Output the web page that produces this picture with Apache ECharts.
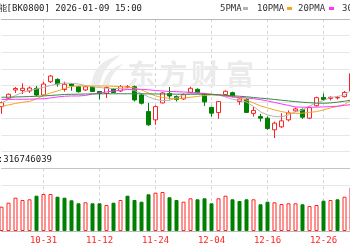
<!DOCTYPE html>
<html><head><meta charset="utf-8">
<script src="https://cdn.jsdelivr.net/npm/echarts@6/dist/echarts.min.js"></script>
<style>
html,body{margin:0;padding:0;width:350px;height:250px;overflow:hidden;background:#fff}
#c{position:absolute;left:-20px;top:0;width:400px;height:250px}
</style></head><body><div id="c"></div>
<script>
// ---------------- data ----------------
const titleText = '人工智能[BK0800] 2026-01-09 15:00';
const volumeText = '成交量:316746039';
const maNames = ['5PMA', '10PMA', '20PMA', '30PMA'];
const watermarkChars = ['东', '方', '财', '富'];

const dates = ['10-23','10-24','10-27','10-28','10-29','10-30','10-31','11-03','11-04','11-05','11-06','11-07','11-10','11-11','11-12','11-13','11-14','11-17','11-18','11-19','11-20','11-21','11-24','11-25','11-26','11-27','11-28','12-01','12-02','12-03','12-04','12-05','12-08','12-09','12-10','12-11','12-12','12-15','12-16','12-17','12-18','12-19','12-22','12-23','12-24','12-25','12-26','12-29','12-30','12-31','01-05'];

const opens = [1835.9,1861.1,1886,1884.5,1883,1891.1,1871,1910.9,1918.1,1887.5,1904,1895.9,1886,1895,1881.5,1875.5,1889,1883,1895,1895.9,1871,1820.9,1796,1847,1875.5,1866.5,1859,1879.1,1888.1,1875.5,1833.5,1817.9,1872.5,1877.9,1850.9,1857.5,1815.5,1805.9,1801.1,1766,1775,1796,1823,1826.9,1801.1,1838.6,1863.5,1860.5,1862.3,1865.9,1883];
const closes = [1847.9,1873.1,1890.5,1891.1,1892,1871,1904,1928,1904,1903.1,1898.9,1880.9,1895.9,1881.5,1875.5,1893.5,1878.5,1896.5,1895.6,1856,1846.1,1781,1835.9,1877,1868,1857.5,1872.5,1891.1,1877,1850,1816.1,1850.9,1882.1,1867.1,1859,1818.5,1824.5,1801.1,1769.6,1786.1,1793,1817,1829,1804.1,1832.9,1862.9,1857.5,1864.1,1863.2,1878.5,1935.5];
const lows = [1814,1859,1877,1874,1877,1866.5,1869.5,1907,1895.9,1880.9,1883.9,1877.9,1883,1880,1857.5,1862,1877,1880,1891.1,1851.5,1842.5,1778,1781,1845.5,1857.5,1851.5,1856,1876.1,1875.5,1838,1805.9,1799,1866.5,1863.5,1841,1817,1805.9,1790.9,1766,1741.1,1771.1,1791.5,1820,1799,1798.1,1835.9,1853,1854.5,1857.5,1863.5,1880];
const highs = [1851.5,1875.5,1895,1906.1,1896.5,1898,1910.9,1931,1921.1,1910.9,1906.1,1898,1898,1898,1883,1896.5,1892,1901,1901,1899.5,1875.5,1847,1839.5,1880,1895,1869.5,1875.5,1895.9,1891.1,1877,1835.9,1853,1885.1,1880.9,1861.1,1861.1,1835,1814,1805.9,1790.9,1816.1,1824.5,1833.5,1830.5,1835.9,1865.9,1875.5,1866.5,1868,1883,1940];

const ma5 = [1847,1857.5,1869.5,1878.5,1884.5,1889,1893.5,1899.5,1904,1907,1906.1,1904,1899.5,1895.9,1893.5,1891.1,1890.5,1890.5,1889,1884.5,1875.5,1865,1857.5,1853.9,1854.5,1863.5,1871,1875.5,1877,1876.1,1874,1871,1865,1858.1,1854.5,1850,1836.5,1820,1811,1805.9,1805,1811,1820,1826,1838,1847,1854.5,1863.5,1866.5,1871,1886];
const ma10 = [1836.5,1841,1845.5,1849.1,1851.5,1859,1869.5,1877,1883,1890.5,1896.5,1898,1898,1898,1898,1898,1897.1,1895.9,1895,1892,1886,1877,1868,1863.5,1861.1,1859,1862,1864.1,1866.5,1869.5,1871,1871,1869.5,1865.9,1862,1856,1847,1838,1832,1826,1820.9,1817,1815.5,1816.1,1818.5,1820.9,1826,1832,1836.5,1842.5,1856];
const ma20 = [1857.5,1857.5,1858.1,1858.1,1858.4,1859,1859.6,1862,1865,1867.1,1868,1868,1869.5,1874,1877,1880,1883,1885.1,1887.5,1888.1,1888.1,1886.6,1884.5,1883,1881.5,1880.9,1880,1878.5,1877,1874.9,1872.5,1871,1868,1865,1863.5,1862,1859.6,1856.9,1853,1848.5,1844,1839.5,1835,1834.1,1834.1,1834.4,1835,1835.9,1837.1,1839.5,1842.5];
const ma30 = [1864.1,1864.4,1865,1865.6,1866.2,1867.1,1868,1869.5,1871,1872.5,1873.1,1873.4,1874,1874,1874.3,1874.6,1874.6,1874.6,1874.6,1874.6,1874.6,1874.3,1874,1874,1873.7,1873.4,1873.4,1873.1,1873.1,1873.1,1872.5,1871.6,1870.1,1868.6,1867.1,1865.6,1863.5,1861.4,1859.6,1857.5,1855.1,1853,1850.9,1849.1,1847.6,1846.4,1846.1,1847,1849.4,1852.1,1856];

// volume, millions of shares
const volumes = [145.8,169.8,199.8,186,190.2,211.8,222,222,205.8,199.8,184.2,166.2,172.2,166.2,166.2,156,169.8,186,211.8,186,175.8,220.2,229.8,234,202.2,186,175.8,196.2,190.2,196.2,166.2,196.2,211.8,190.2,180,190.2,190.2,160.2,175.8,172.2,162,166.2,166.2,160.2,150,156,181.8,186,190.2,205.8,262.2];

// ---------------- chart ----------------
const OFF = 20; // container is shifted 20px left of the window
const RED = '#f22';
const GREEN = '#008000';
const MA_COLORS = ['#b4b4b4', '#f5a623', '#ff33ff', '#338a44'];
const MONO = '"DejaVu Sans Mono", "Liberation Mono", monospace';

const candleData = dates.map((d, i) => [opens[i], closes[i], lows[i], highs[i]]);
const volData = volumes.map((v, i) => {
  const up = i === 0 ? closes[0] >= opens[0] : closes[i] >= closes[i - 1];
  return { value: v, itemStyle: up ? { color: '#fff', borderColor: RED } : { color: GREEN, borderColor: GREEN } };
});
const showAt = (idx) => idx >= 6 && (idx - 6) % 8 === 0;
const dashed = { show: true, interval: showAt, lineStyle: { color: '#d4d4d4', type: [3, 3], width: 1 } };

const chart = echarts.init(document.getElementById('c'), null, { renderer: 'canvas' });

const maSeries = [ma5, ma10, ma20, ma30].map((arr, k) => ({
  name: maNames[k], type: 'line', xAxisIndex: 0, yAxisIndex: 0, data: arr,
  symbol: 'none', showSymbol: false, smooth: false, z: 3,
  lineStyle: { color: MA_COLORS[k], width: 1 }, itemStyle: { color: MA_COLORS[k] }
}));

// legend (text followed by a colour swatch)
const legendTextX = [220, 257, 298, 342];
const legendSwatchX = [243, 287, 329, 373];
const legendGraphics = [];
maNames.forEach((n, k) => {
  legendGraphics.push({ type: 'text', x: legendTextX[k] + OFF, y: 8.5, z: 10,
    style: { text: n, fill: '#333', fontSize: 9, fontFamily: MONO, align: 'left', textAlign: 'left', verticalAlign: 'middle', textVerticalAlign: 'middle' } });
  legendGraphics.push({ type: 'rect', x: legendSwatchX[k] + OFF, y: 7, z: 10,
    shape: { width: 5, height: 3 }, style: { fill: MA_COLORS[k] } });
});

const wmCenters = [141.5, 173.5, 205, 240];
const wmGraphics = watermarkChars.map((ch, k) => ({
  type: 'text', x: wmCenters[k] + OFF, y: 74, z: 1, silent: true,
  style: { text: ch, fill: '#ebebeb', fontSize: 28, fontWeight: 'bold', fontFamily: '"Noto Sans CJK SC", sans-serif',
    align: 'center', textAlign: 'center', verticalAlign: 'middle', textVerticalAlign: 'middle' }
}));

const logoGraphics = [
  { type: 'polygon', x: 90 + OFF, y: 55, z: 1, silent: true,
    shape: { points: [[2, 30], [5, 17], [14, 7], [30, 0], [20, 9], [13, 19], [9, 30]], smooth: 0.3 }, style: { fill: '#ececec' } },
  { type: 'polygon', x: 90 + OFF, y: 55, z: 1, silent: true,
    shape: { points: [[13, 30], [17, 20], [24, 13], [33, 9], [26, 16], [21, 23], [19, 30]], smooth: 0.3 }, style: { fill: '#ececec' } }
];

const option = {
  animation: false,
  backgroundColor: '#fff',
  grid: [
    { left: 21.5, width: 350, top: 19, height: 132.7 },
    { left: 21.5, width: 350, top: 168.3, height: 62.7 }
  ],
  xAxis: [
    { type: 'category', gridIndex: 0, data: dates, boundaryGap: false, position: 'top',
      axisLine: { show: true, lineStyle: { color: '#b8b8b8' } }, axisTick: { show: false }, axisLabel: { show: false }, splitLine: dashed },
    { type: 'category', gridIndex: 1, data: dates, boundaryGap: false, position: 'bottom',
      axisLine: { show: true, lineStyle: { color: '#b8b8b8' } }, axisTick: { show: false },
      axisLabel: { interval: showAt, color: RED, fontFamily: MONO, fontSize: 9, margin: 5 }, splitLine: dashed },
    { type: 'category', gridIndex: 1, data: dates, boundaryGap: false, position: 'top',
      axisLine: { show: true, lineStyle: { color: '#c4c4c4' } }, axisTick: { show: false }, axisLabel: { show: false }, splitLine: { show: false } }
  ],
  yAxis: [
    { type: 'value', gridIndex: 0, min: 1700, max: 2100, interval: 50,
      axisLine: { show: false }, axisTick: { show: false }, axisLabel: { show: false },
      splitLine: { show: true, lineStyle: { color: '#e6e6e6', width: 1 } } },
    { type: 'value', gridIndex: 1, min: 0, max: 376.2,
      axisLine: { show: false }, axisTick: { show: false }, axisLabel: { show: false }, splitLine: { show: false } }
  ],
  series: [
    { type: 'candlestick', xAxisIndex: 0, yAxisIndex: 0, data: candleData, barWidth: 4, clip: false, z: 2,
      itemStyle: { color: '#fff', color0: GREEN, borderColor: RED, borderColor0: GREEN, borderWidth: 1 } },
    ...maSeries,
    { type: 'bar', xAxisIndex: 1, yAxisIndex: 1, data: volData, barWidth: 4, clip: false, z: 2,
      itemStyle: { borderWidth: 1 },
      markLine: { silent: true, symbol: 'none', z: 1, label: { show: false }, animation: false,
        lineStyle: { color: '#e6e6e6', type: 'solid', width: 1 },
        data: [{ yAxis: 84 }, { yAxis: 276 }] } }
  ],
  graphic: [
    { type: 'text', x: 142 + OFF, y: 8.5, z: 10,
      style: { text: titleText, fill: '#222', fontSize: 9, fontFamily: MONO, align: 'right', textAlign: 'right', verticalAlign: 'middle', textVerticalAlign: 'middle' } },
    { type: 'text', x: 52 + OFF, y: 160, z: 10,
      style: { text: volumeText, fill: '#222', fontSize: 9, fontFamily: MONO, align: 'right', textAlign: 'right', verticalAlign: 'middle', textVerticalAlign: 'middle' } },
    ...legendGraphics,
    ...wmGraphics,
    ...logoGraphics
  ]
};
chart.setOption(option);
</script></body></html>
